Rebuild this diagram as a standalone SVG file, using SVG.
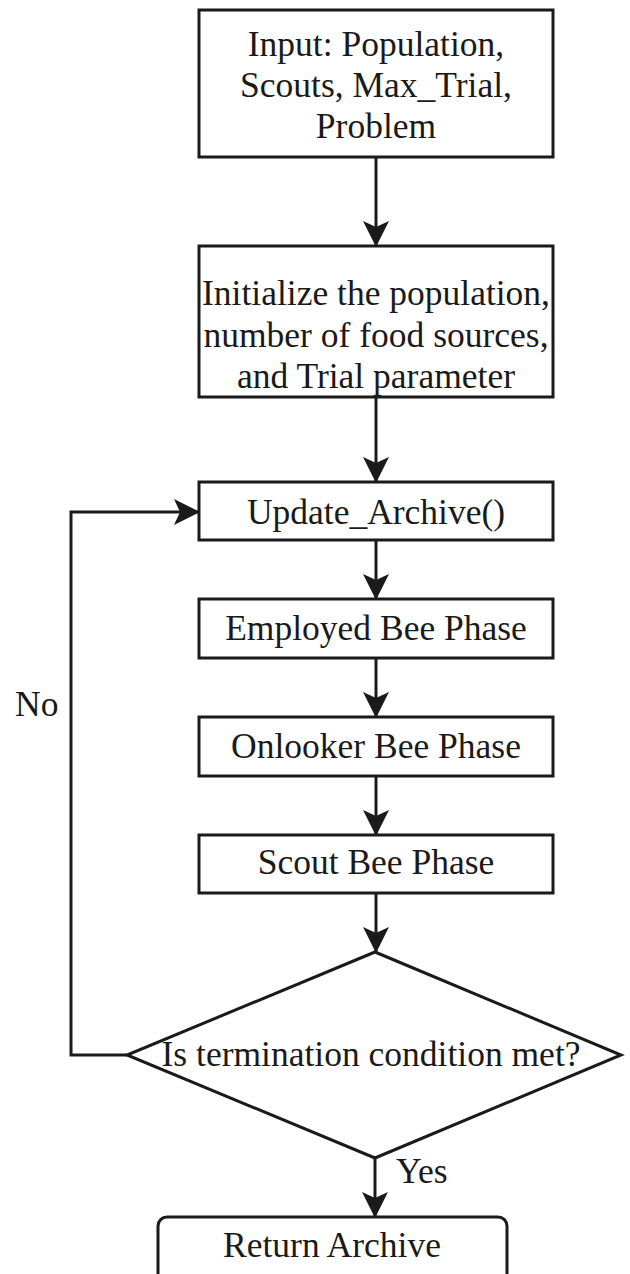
<svg xmlns="http://www.w3.org/2000/svg" width="630" height="1274" viewBox="0 0 630 1274">
<style>
.box{fill:#fff;stroke:#1a1a1a;stroke-width:3}
.t{font-family:"Liberation Serif","Times New Roman",serif;font-size:35.5px;fill:#1a1a1a;text-anchor:middle}
.lbl{font-family:"Liberation Serif","Times New Roman",serif;font-size:35.5px;fill:#1a1a1a}
.c{fill:none;stroke:#1a1a1a;stroke-width:3;marker-end:url(#ah)}
</style>
<defs>
<marker id="ah" viewBox="0 0 26 26" refX="25" refY="13" markerUnits="userSpaceOnUse" markerWidth="26" markerHeight="26" orient="auto">
<path d="M0,0 L26,13 L0,26 L6,13 Z" fill="#1a1a1a"/>
</marker>
</defs>
<rect width="630" height="1274" fill="#fff"/>
<g id="connectors">
<line class="c" x1="376" y1="157" x2="376" y2="246"/>
<line class="c" x1="376" y1="397" x2="376" y2="482"/>
<line class="c" x1="376" y1="540" x2="376" y2="599"/>
<line class="c" x1="376" y1="658" x2="376" y2="717"/>
<line class="c" x1="376" y1="776" x2="376" y2="835"/>
<line class="c" x1="376" y1="893" x2="376" y2="952"/>
<line class="c" x1="375" y1="1158" x2="375" y2="1217"/>
<polyline class="c" points="127,1055 71,1055 71,512 199,512"/>
<text class="lbl" x="15" y="716">No</text>
<text class="lbl" x="396" y="1183">Yes</text>
</g>
<g id="input">
<rect class="box" x="199" y="10" width="354" height="147"/>
<text class="t" x="376" y="56">Input: Population,</text>
<text class="t" x="376" y="97">Scouts, Max_Trial,</text>
<text class="t" x="376" y="138">Problem</text>
</g>
<g id="init">
<rect class="box" x="199" y="246" width="354" height="151"/>
<text class="t" x="376" y="305">Initialize the population,</text>
<text class="t" x="376" y="347">number of food sources,</text>
<text class="t" x="376" y="388">and Trial parameter</text>
</g>
<g id="update">
<rect class="box" x="199" y="482" width="354" height="58"/>
<text class="t" x="376" y="524">Update_Archive()</text>
</g>
<g id="employed">
<rect class="box" x="199" y="599" width="354" height="59"/>
<text class="t" x="376" y="640">Employed Bee Phase</text>
</g>
<g id="onlooker">
<rect class="box" x="199" y="717" width="354" height="59"/>
<text class="t" x="376" y="758">Onlooker Bee Phase</text>
</g>
<g id="scout">
<rect class="box" x="199" y="835" width="354" height="58"/>
<text class="t" x="376" y="874">Scout Bee Phase</text>
</g>
<g id="decision">
<polygon class="box" points="375,952 621,1055 375,1158 127,1055"/>
<text class="t" x="371" y="1066">Is termination condition met?</text>
</g>
<g id="return">
<rect class="box" x="158" y="1217" width="349" height="70" rx="9"/>
<text class="t" x="332" y="1257">Return Archive</text>
</g>
</svg>
